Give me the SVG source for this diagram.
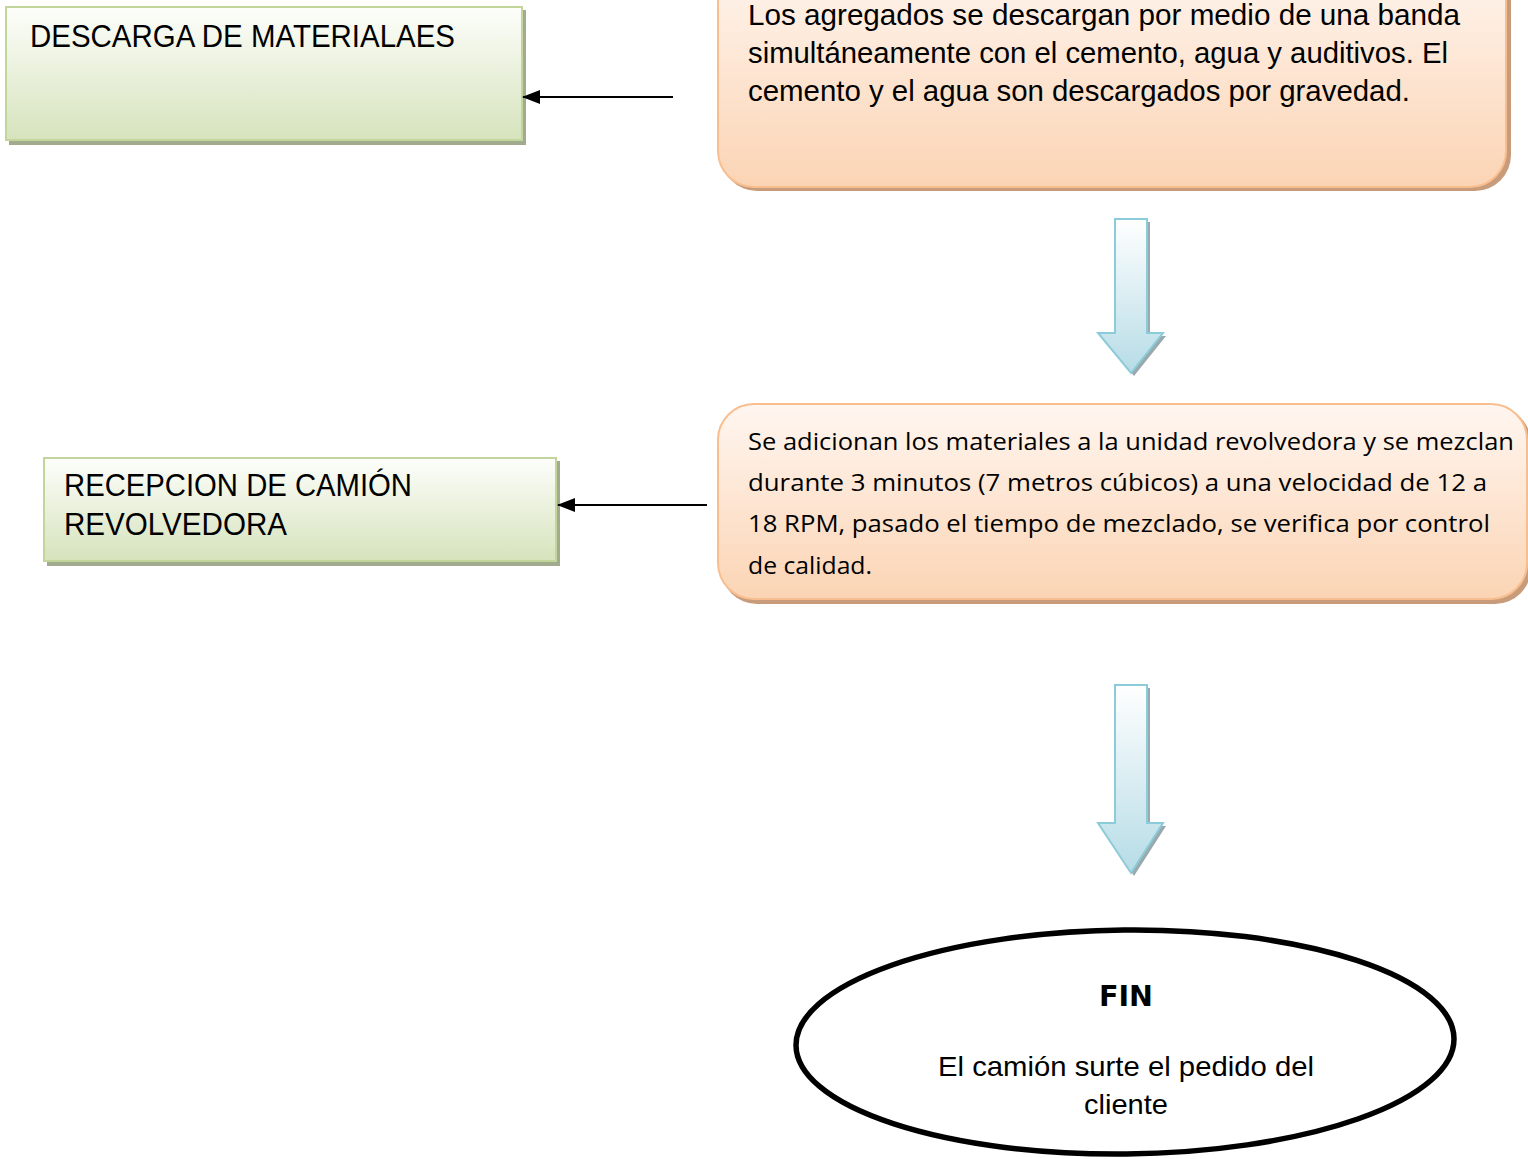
<svg xmlns="http://www.w3.org/2000/svg" width="1528" height="1159" viewBox="0 0 1528 1159">
<defs>
<linearGradient id="gGreen" x1="0" y1="0" x2="0" y2="1">
<stop offset="0" stop-color="#fdfefb"/>
<stop offset="1" stop-color="#d6e3bc"/>
</linearGradient>
<linearGradient id="gOrange" x1="0" y1="0" x2="0" y2="1">
<stop offset="0" stop-color="#fff6f0"/>
<stop offset="1" stop-color="#fbd4b4"/>
</linearGradient>
<linearGradient id="gBlue" x1="0" y1="0" x2="0" y2="1">
<stop offset="0" stop-color="#ffffff"/>
<stop offset="1" stop-color="#b6dce6"/>
</linearGradient>
<marker id="ah" viewBox="0 0 18 14" refX="17" refY="7" markerWidth="18" markerHeight="14" markerUnits="userSpaceOnUse" orient="auto">
<path d="M0,0 L18,7 L0,14 Z" fill="#000"/>
</marker>
<style>
.gbox{fill:url(#gGreen);stroke:#c2d59b;stroke-width:2}
.gsh{fill:#a3ab8e}
.obox{fill:url(#gOrange);stroke:#f9be8f;stroke-width:2}
.osh{fill:#c89b7a}
.barrow{fill:url(#gBlue);stroke:#8ccbd9;stroke-width:2}
.bsh{fill:#9aa9ad}
.t{font-family:"Liberation Sans",Arial,sans-serif;fill:#000}
.c{font-family:"Open Sans","Noto Sans",sans-serif;fill:#000}
.conn{stroke:#000;stroke-width:2;fill:none;marker-end:url(#ah)}
</style>
</defs>

<g id="descarga">
<rect class="gsh" x="9" y="10" width="517" height="135"/>
<rect class="gbox" x="6" y="7" width="516" height="133"/>
<text class="t" x="30" y="47" font-size="31" textLength="425" lengthAdjust="spacingAndGlyphs">DESCARGA DE MATERIALAES</text>
</g>

<g id="agregados">
<rect class="osh" x="721" y="-40" width="790" height="231" rx="36"/>
<rect class="obox" x="718" y="-43" width="788" height="230" rx="36"/>
<text class="t" x="748" y="25" font-size="30" textLength="712" lengthAdjust="spacingAndGlyphs">Los agregados se descargan  por medio de una banda</text>
<text class="t" x="748" y="63" font-size="30" textLength="700" lengthAdjust="spacingAndGlyphs">simultáneamente con el cemento, agua y auditivos. El</text>
<text class="t" x="748" y="101" font-size="30" textLength="662" lengthAdjust="spacingAndGlyphs">cemento y el agua son descargados por gravedad.</text>
</g>

<g id="adicionan">
<rect class="osh" x="721" y="407" width="810" height="197" rx="36"/>
<rect class="obox" x="718" y="404" width="809" height="195" rx="36"/>
<text class="c" x="748" y="450" font-size="24" textLength="766" lengthAdjust="spacingAndGlyphs">Se adicionan los materiales a la unidad revolvedora y se mezclan</text>
<text class="c" x="748" y="491" font-size="24" textLength="739" lengthAdjust="spacingAndGlyphs">durante 3 minutos (7 metros cúbicos) a una velocidad  de 12 a</text>
<text class="c" x="748" y="532" font-size="24" textLength="742" lengthAdjust="spacingAndGlyphs">18 RPM, pasado el tiempo de mezclado, se verifica por control</text>
<text class="c" x="748" y="574" font-size="24" textLength="124" lengthAdjust="spacingAndGlyphs">de calidad.</text>
</g>

<g id="recepcion">
<rect class="gsh" x="47" y="461" width="513" height="105"/>
<rect class="gbox" x="44" y="458" width="512" height="103"/>
<text class="t" x="64" y="496" font-size="31" textLength="348" lengthAdjust="spacingAndGlyphs">RECEPCION DE CAMIÓN</text>
<text class="t" x="64" y="535" font-size="31" textLength="223" lengthAdjust="spacingAndGlyphs">REVOLVEDORA</text>
</g>

<g id="fin">
<ellipse cx="1125" cy="1042" rx="329" ry="112" fill="#fff" stroke="#000" stroke-width="5.5" transform="rotate(-0.6 1125 1042)"/>
<text x="1126" y="1006" font-size="28" font-weight="bold" text-anchor="middle" font-family="'DejaVu Sans',sans-serif" textLength="54" lengthAdjust="spacingAndGlyphs">FIN</text>
<text class="t" x="1126" y="1076" font-size="28" text-anchor="middle" textLength="376" lengthAdjust="spacingAndGlyphs">El camión surte el pedido del</text>
<text class="t" x="1126" y="1114" font-size="28" text-anchor="middle" textLength="84" lengthAdjust="spacingAndGlyphs">cliente</text>
</g>

<g id="connectors">
<line class="conn" x1="673" y1="97" x2="523" y2="97"/>
<line class="conn" x1="707" y1="505" x2="558" y2="505"/>
<g id="downarrow1">
<path class="bsh" d="M1118,222 H1150 V336 H1166 L1134,376 L1101,336 H1118 Z"/>
<path class="barrow" d="M1115,219 H1147 V333 H1163 L1131,373 L1098,333 H1115 Z"/>
</g>
<g id="downarrow2">
<path class="bsh" d="M1118,688 H1150 V826 H1166 L1134,876 L1101,826 H1118 Z"/>
<path class="barrow" d="M1115,685 H1147 V823 H1163 L1131,873 L1098,823 H1115 Z"/>
</g>
</g>
</svg>
